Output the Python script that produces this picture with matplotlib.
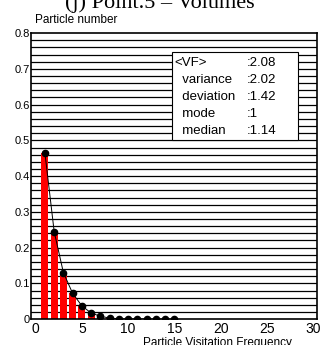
import numpy as np
import matplotlib.pyplot as plt

plt.rcParams['font.family'] = ['Liberation Sans', 'DejaVu Sans']

# datos
frecuencia = [1, 2, 3, 4, 5, 6, 7, 8, 9, 10, 11, 12, 13, 14, 15]
particulas = [0.465, 0.245, 0.13, 0.072, 0.037, 0.017, 0.008, 0.003,
              0.001, 0.0005, 0.0003, 0.0002, 0.0001, 0.0, 0.0]
etiquetas = ["<VF>", "  variance", "  deviation", "  mode", "  median"]
valores = [":2.08", ":2.02", ":1.42", ":1", ":1.14"]

fig = plt.figure(figsize=(3.2, 3.45), dpi=100)
ax = fig.add_axes([0.097, 0.075, 0.893, 0.829])

# lineas horizontales cada 0.02
for y in np.arange(0.02, 0.8, 0.02):
    ax.axhline(y, color="black", lw=0.9, zorder=0)

ax.bar(frecuencia, particulas, width=0.75, color="red", zorder=2)
ax.plot(frecuencia, particulas, color="black", lw=0.7, zorder=3)
ax.plot(frecuencia, particulas, "o", color="black", ms=4.5, zorder=4)

ax.set_xlim(-0.5, 30.4)
ax.set_ylim(0, 0.8)
ax.set_xticks([0, 5, 10, 15, 20, 25, 30])
ax.set_yticks(np.arange(0, 0.81, 0.1))
ax.set_yticklabels(["0", "0.1", "0.2", "0.3", "0.4", "0.5", "0.6", "0.7", "0.8"])
ax.tick_params(axis="x", labelsize=10, length=0, pad=2)
ax.tick_params(axis="y", labelsize=8, length=0, pad=1)
for s in ax.spines.values():
    s.set_linewidth(1.2)

# cuadro de estadisticas
ax.add_patch(plt.Rectangle((14.7, 0.501), 13.7, 0.246, facecolor="white",
                           edgecolor="black", lw=0.8, zorder=5))
for i, (e, v) in enumerate(zip(etiquetas, valores)):
    yy = 0.716 - i * 0.0476
    ax.text(15.05, yy, e, fontsize=9.5, va="center", zorder=6)
    ax.text(22.8, yy, v, fontsize=9.5, va="center", zorder=6)

fig.text(0.11, 0.925, "Particle number", fontsize=8.5, ha="left", va="bottom")
fig.text(0.68, -0.012, "Particle Visitation Frequency", fontsize=8.5,
         ha="center", va="bottom")
fig.text(0.5, 1.02, "(j) Point.5 \u2013 Volumes", fontsize=16,
         family=["Liberation Serif", "DejaVu Serif"], ha="center", va="top")

fig.savefig("out.png", dpi=100)
